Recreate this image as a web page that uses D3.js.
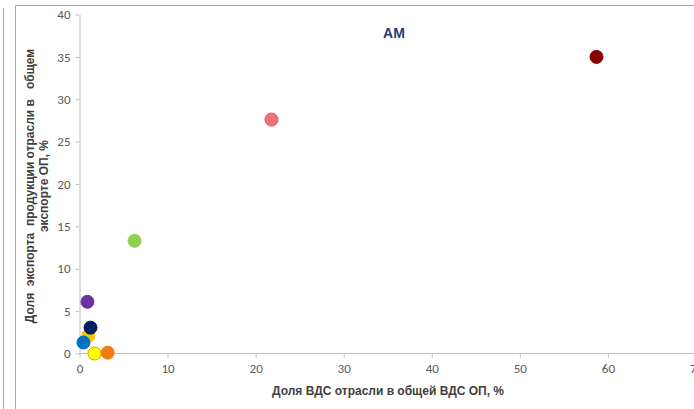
<!DOCTYPE html>
<html><head><meta charset="utf-8">
<script src="https://cdn.jsdelivr.net/npm/d3@7"></script>
<style>body{margin:0;background:#fff;}svg{display:block;}</style>
</head><body>
<svg id="c" width="694" height="409"></svg>
<script>
const xValues = [58.7, 21.8, 6.25, 0.9, 1.0, 1.25, 0.45, 1.7, 3.2];
const yValues = [35.0, 27.6, 13.3, 6.1, 2.1, 3.05, 1.3, 0.0, 0.1];
const fills   = ["#8b0000", "#f4737a", "#92d050", "#7030a0", "#ffc000", "#002060", "#0070c0", "#ffff00", "#f07d14"];
const strokes = ["#7a0000", "#e8505e", "#92d050", "#7030a0", "#ffc000", "#001a50", "#0070c0", "#e0a000", "#f07d14"];
const xTicks = [0, 10, 20, 30, 40, 50, 60, 70];
const yTicks = [0, 5, 10, 15, 20, 25, 30, 35, 40];
const title = "AM";
const xTitle = "Доля ВДС отрасли в общей ВДС ОП, %";
const yTitle = ["Доля  экспорта  продукции отрасли в   общем", "экспорте ОП, %"];

const svg = d3.select("#c");
const x = d3.scaleLinear().domain([0, 70]).range([79.5, 696]);
const y = d3.scaleLinear().domain([0, 40]).range([353.5, 14.5]);

// borders
svg.append("line").attr("x1",3.5).attr("x2",3.5).attr("y1",8).attr("y2",409).attr("stroke","#a6a6a6");
svg.append("path").attr("d","M15.5,409V5.5H694").attr("fill","none").attr("stroke","#a6a6a6");

const tickColor = "#595959";
const xAxis = svg.append("g").attr("transform",`translate(0,${y(0)})`)
  .call(d3.axisBottom(x).tickValues(xTicks).tickSize(4).tickSizeOuter(0));
xAxis.select(".domain").attr("d",`M${x(0)},0H694`);
const yAxis = svg.append("g").attr("transform",`translate(${x(0)},0)`)
  .call(d3.axisLeft(y).tickValues(yTicks).tickSize(4).tickSizeOuter(0));
[xAxis, yAxis].forEach(a=>{
  a.select(".domain").attr("stroke","#bfbfbf");
  a.selectAll(".tick line").attr("stroke","#bfbfbf");
  a.selectAll("text").attr("fill",tickColor).style("font-family","Carlito, 'Open Sans', Arial, sans-serif").style("font-size","13px");
});
xAxis.selectAll("text").attr("dy","0.71em").attr("y",10);
yAxis.selectAll("text").attr("x",-9);

svg.append("text").attr("x",394).attr("y",38).attr("text-anchor","middle")
  .attr("fill","#1f3c78").style("font-family","'Liberation Sans', Arial, sans-serif")
  .style("font-weight","bold").style("font-size","14px").text(title);

svg.append("text").attr("x",388).attr("y",395).attr("text-anchor","middle")
  .attr("fill","#404040").style("font-family","'Liberation Sans', Arial, sans-serif")
  .style("font-weight","bold").style("font-size","12px").text(xTitle);

const yt = svg.append("text").attr("transform","translate(34,186) rotate(-90)")
  .attr("text-anchor","middle").attr("fill","#404040")
  .style("font-family","'Liberation Sans', Arial, sans-serif").style("font-weight","bold").style("font-size","12px")
  .attr("xml:space","preserve").style("white-space","pre");
yTitle.forEach((t,i)=>yt.append("tspan").attr("x",0).attr("dy", i===0?0:14).text(t));

const pts = xValues.map((v,i)=>({x:v,y:yValues[i],f:fills[i],s:strokes[i]}));
svg.append("g").selectAll("circle").data(pts).join("circle")
  .attr("cx",d=>x(d.x)).attr("cy",d=>y(d.y)).attr("r",6.5)
  .attr("fill",d=>d.f).attr("stroke",d=>d.s).attr("stroke-width",1);
</script>
</body></html>
